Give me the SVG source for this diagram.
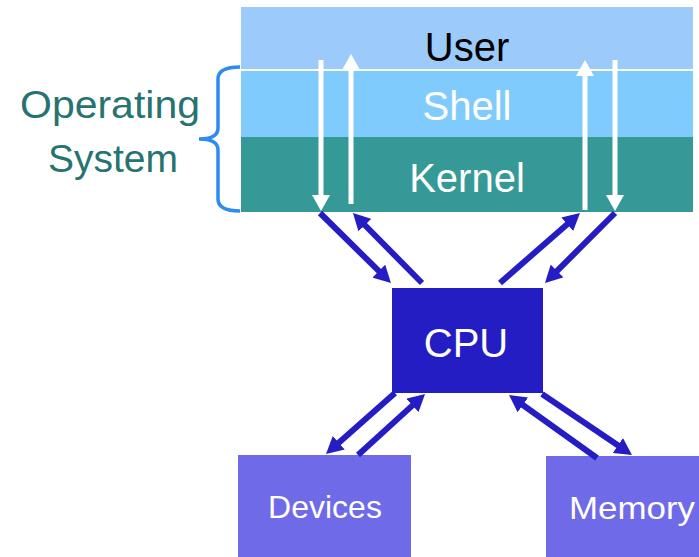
<svg xmlns="http://www.w3.org/2000/svg" width="699" height="557" viewBox="0 0 699 557">
<style>
text{font-family:"Liberation Sans",Arial,sans-serif;text-anchor:middle}
.w{fill:#fff}
.conn{stroke:#241DC4;stroke-width:6;fill:none;marker-end:url(#ah)}
.wa{stroke:#fff;stroke-width:5;fill:none;marker-end:url(#wh)}
</style>
<defs>
<marker id="ah" markerUnits="userSpaceOnUse" viewBox="0 0 17 18" markerWidth="17" markerHeight="18" refX="3" refY="9" orient="auto"><path d="M0,0L17,9L0,18z" fill="#241DC4"/></marker>
<marker id="wh" markerUnits="userSpaceOnUse" viewBox="0 0 16 18" markerWidth="16" markerHeight="18" refX="3" refY="9" orient="auto"><path d="M0,0L16,9L0,18z" fill="#fff"/></marker>
</defs>
<rect width="699" height="557" fill="#fff"/>
<g id="user"><rect x="241" y="7" width="452" height="62" fill="#9BCAFB"/><text x="467" y="61" font-size="40" fill="#000">User</text></g>
<rect x="241" y="69" width="452" height="2" fill="#fff"/>
<g id="shell"><rect x="241" y="71" width="452" height="66" fill="#80CBFD"/><text x="467" y="120" font-size="40" class="w">Shell</text></g>
<g id="kernel"><rect x="241" y="137" width="452" height="75" fill="#359A97"/><text x="467" y="192" font-size="40" class="w">Kernel</text></g>
<g id="os-label">
<path d="M240,67 Q218,67 218,79 L218,128 Q218,139 199,139 Q218,139 218,150 L218,199 Q218,211 240,211" fill="none" stroke="#2E8BF0" stroke-width="3.5"/>
<text x="110" y="118" font-size="39" fill="#267370" textLength="180" lengthAdjust="spacingAndGlyphs">Operating</text>
<text x="113" y="172" font-size="39" fill="#267370">System</text>
</g>
<g id="cpu"><rect x="392" y="288" width="151" height="105" fill="#241DC4"/><text x="466" y="357" font-size="40" class="w">CPU</text></g>
<g id="devices"><rect x="238" y="455" width="173" height="102" fill="#6F6AE8"/><text x="325" y="518" font-size="32" class="w">Devices</text></g>
<g id="memory"><rect x="546" y="456" width="153" height="101" fill="#6F6AE8"/><text x="632" y="519" font-size="32" class="w" textLength="126" lengthAdjust="spacingAndGlyphs">Memory</text></g>
<g id="connectors">
<line class="wa" x1="321" y1="60" x2="321" y2="198"/>
<line class="wa" x1="351" y1="204" x2="351" y2="67"/>
<line class="wa" x1="585" y1="210" x2="585" y2="73"/>
<line class="wa" x1="615" y1="60" x2="615" y2="198"/>
<line class="conn" x1="320" y1="213" x2="381" y2="273.2"/>
<line class="conn" x1="422" y1="283" x2="362.8" y2="223"/>
<line class="conn" x1="500" y1="283" x2="569.5" y2="222.2"/>
<line class="conn" x1="615" y1="213" x2="554.9" y2="273.1"/>
<line class="conn" x1="395" y1="393" x2="336.5" y2="444.7"/>
<line class="conn" x1="358" y1="455" x2="414.7" y2="403.4"/>
<line class="conn" x1="597" y1="458" x2="520.4" y2="403.2"/>
<line class="conn" x1="542" y1="394" x2="620.4" y2="447.1"/>
</g>
</svg>
